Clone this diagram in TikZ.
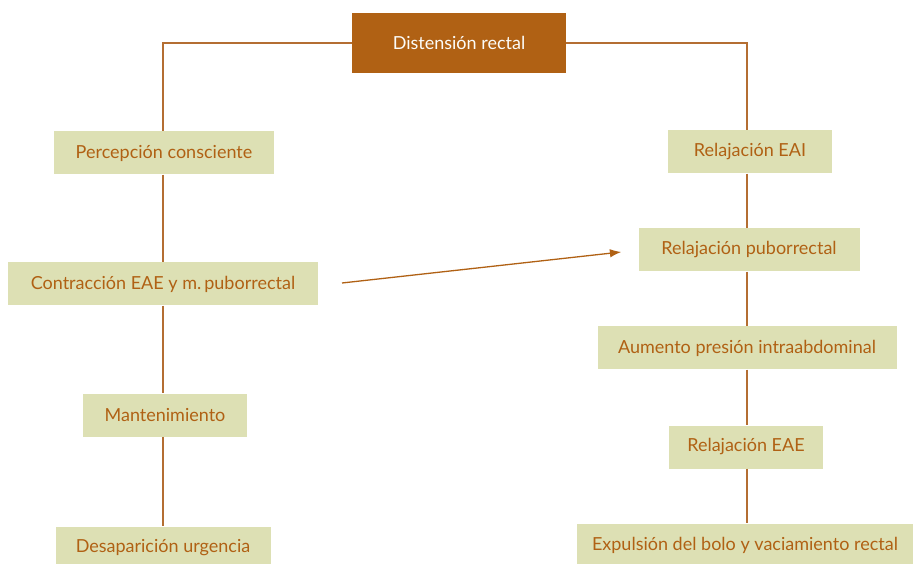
\documentclass[tikz,border=0pt]{standalone}
\usepackage{fontspec}
\setmainfont{Lato}
\usepackage{tikz}
\usetikzlibrary{arrows.meta}
\definecolor{rust}{RGB}{176,97,20}
\definecolor{olive}{RGB}{221,224,180}
\definecolor{wirecol}{RGB}{180,110,50}

\begin{document}
\begin{tikzpicture}[x=1pt, y=-1pt, every node/.style={font=\fontsize{18}{20}\selectfont}, >={Latex[length=4mm, width=3mm]},
	stage/.style={fill=olive, text=rust, minimum height=43pt, inner xsep=12pt},
	wire/.style={draw=wirecol, line width=1.1pt}]
	\useasboundingbox (0,0) rectangle (914,564);
	\node[fill=rust, text=white!92!olive, minimum width=214pt, minimum height=60pt] (dist) at (459,43) {Distensión rectal};
	\node[stage, minimum width=220pt] (perc) at (164,153) {Percepción consciente};
	\node[stage, minimum width=310pt] (contr) at (163,284) {Contracción EAE y m.\,puborrectal};
	\node[stage, minimum width=164pt] (mant) at (165,415) {Mantenimiento};
	\node[stage, minimum width=215pt] (desap) at (163,548) {Desaparición urgencia};
	\node[stage, minimum width=164pt] (eai) at (750,152) {Relajación EAI};
	\node[stage, minimum width=221pt] (pub) at (749,250) {Relajación puborrectal};
	\node[stage, minimum width=299pt] (aum) at (747,348) {Aumento presión intraabdominal};
	\node[stage, minimum width=154pt] (eae) at (746,447) {Relajación EAE};
	\node[stage, minimum width=336pt] (expu) at (745,545) {Expulsión del bolo y vaciamiento rectal};
	% left branch
	\draw[wire] (dist.west) -| (perc.north -| contr.north);
	\draw[wire] (perc.south -| contr.south) -- (contr.north);
	\draw[wire] (contr.south) -- (contr.south |- mant.north);
	\draw[wire] (contr.south |- mant.south) -- (desap.north);
	% right branch
	\draw[wire] (dist.east) -| (eai.north -| aum.north);
	\draw[wire] (eai.south -| aum.north) -- (aum.north |- pub.north);
	\draw[wire] (aum.north |- pub.south) -- (aum.north);
	\draw[wire] (aum.south) -- (aum.south |- eae.north);
	\draw[wire] (aum.south |- eae.south) -- (aum.south |- expu.north);
	\coordinate (from) at (342,283);
	\draw[->, rust, line width=1.3pt] (from) -- ([xshift=-17pt, yshift=-2pt]pub.west);
\end{tikzpicture}
\end{document}
